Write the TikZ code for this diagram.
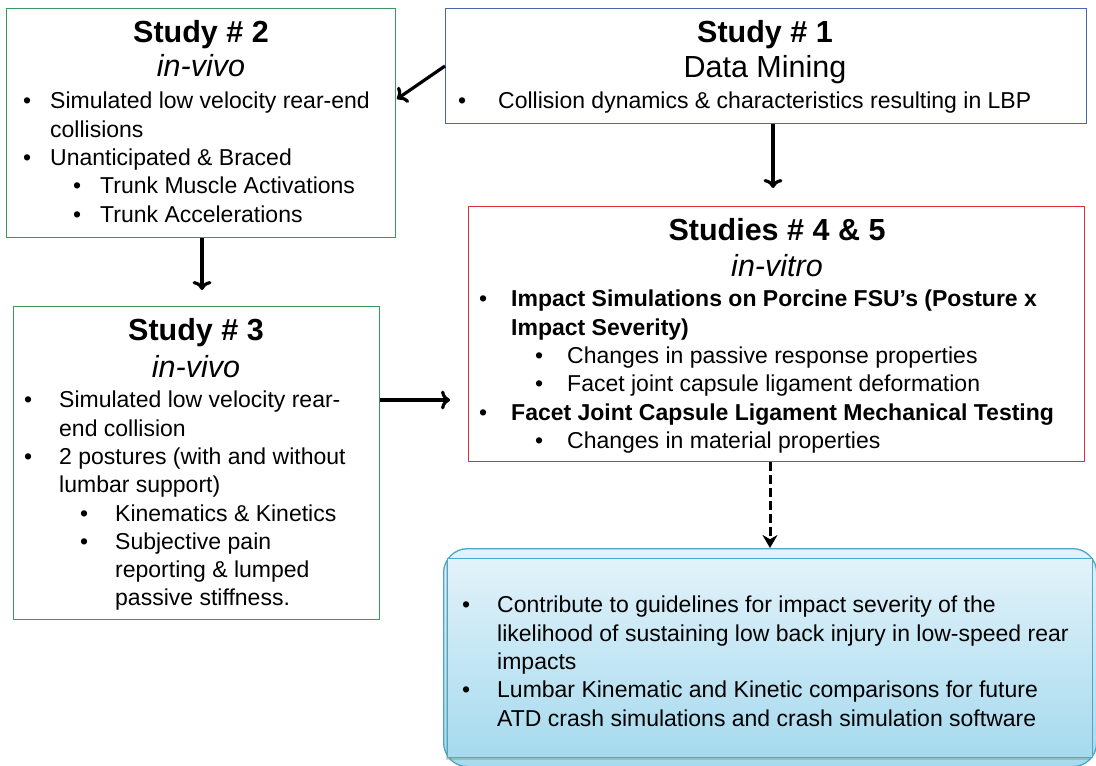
\documentclass[tikz,border=0pt]{standalone}
\usepackage{fontspec}
\setmainfont{Liberation Sans}
\usetikzlibrary{arrows.meta,shadows}
\definecolor{sgreen}{HTML}{3A9A5C}
\definecolor{sblue}{HTML}{4A68B0}
\definecolor{sred}{HTML}{E0303C}
\definecolor{cborder}{HTML}{4AA8C8}
\definecolor{ctop}{HTML}{E2F2FA}
\definecolor{cbot}{HTML}{A6DAEE}
\newcommand\bl{\makebox[27bp][l]{\textbullet}}
\newcommand\blb{\makebox[32bp][l]{\textbullet}}
\tikzset{
  box/.style={draw, line width=1.4bp, inner sep=0, anchor=north west},
  ttl/.style={font=\fontsize{30.5bp}{36bp}\selectfont\bfseries, inner sep=0, anchor=base},
  sub/.style={font=\fontsize{30.5bp}{36bp}\selectfont, inner sep=0, anchor=base},
  txt/.style={font=\fontsize{23bp}{28.3bp}\selectfont, inner sep=0, anchor=north west, align=left},
  arr/.style={line width=3.2bp, -{To[length=9bp,width=19bp]}},
}
\begin{document}
\begin{tikzpicture}[x=1bp,y=-1bp]
\useasboundingbox (0,0) rectangle (1096,766);
% boxes
\node[box, draw=sgreen, minimum width=389bp, minimum height=229bp] (s2) at (6,8) {};
\node[box, draw=sblue, minimum width=641bp, minimum height=115bp] (s1) at (445,8) {};
\node[box, draw=sred, minimum width=616bp, minimum height=255bp] (s45) at (468,206) {};
\node[box, draw=sgreen, minimum width=366bp, minimum height=313bp] (s3) at (13,306) {};
% bottom box
\node[draw=cborder, line width=1.3bp, rounded corners=24bp, top color=ctop, bottom color=cbot,
  minimum width=653bp, minimum height=218bp, inner sep=0, anchor=north west] (res) at (443,548) {};
\node[draw=cborder, line width=1bp, top color=ctop, bottom color=cbot,
  drop shadow={shadow xshift=-2bp, shadow yshift=-2bp, opacity=0.35},
  minimum width=645bp, minimum height=199bp, inner sep=0, anchor=north west] (resf) at (447,558) {};
% Study 2 text
\node[ttl] (s2t) at (201,43) {Study \# 2};
\node[sub] (s2s) at (201,77) {\itshape in-vivo};
\node[txt] (s2b) at (23,92) {\bl Simulated low velocity rear-end\\
\hspace*{27bp}collisions\\
\bl Unanticipated \& Braced\\
\hspace*{50bp}\bl Trunk Muscle Activations\\
\hspace*{50bp}\bl Trunk Accelerations};
% Study 1 text
\node[ttl] (s1t) at (765,43) {Study \# 1};
\node[sub] (s1s) at (765,78) {Data Mining};
\node[txt] (s1b) at (458,92) {\makebox[40bp][l]{\textbullet}Collision dynamics \& characteristics resulting in LBP};
% Studies 4&5 text
\node[ttl] (s45t) at (777,240) {Studies \# 4 \& 5};
\node[sub] (s45s) at (777,276) {\itshape in-vitro};
\node[txt] (s45b) at (479,290) {\blb\textbf{Impact Simulations on Porcine FSU’s (Posture x}\\
\hspace*{32bp}\textbf{Impact Severity)}\\
\hspace*{56bp}\blb Changes in passive response properties\\
\hspace*{56bp}\blb Facet joint capsule ligament deformation\\
\blb\textbf{Facet Joint Capsule Ligament Mechanical Testing}\\
\hspace*{56bp}\blb Changes in material properties};
% Study 3 text
\node[ttl] (s3t) at (196,340) {Study \# 3};
\node[sub] (s3s) at (196,377) {\itshape in-vivo};
\node[txt] (s3b) at (24,391) {\makebox[35bp][l]{\textbullet}Simulated low velocity rear-\\
\hspace*{35bp}end collision\\
\makebox[35bp][l]{\textbullet}2 postures (with and without\\
\hspace*{35bp}lumbar support)\\
\hspace*{56bp}\makebox[35bp][l]{\textbullet}Kinematics \& Kinetics\\
\hspace*{56bp}\makebox[35bp][l]{\textbullet}Subjective pain\\
\hspace*{91bp}reporting \& lumped\\
\hspace*{91bp}passive stiffness.};
% result text
\node[txt] (resb) at (462,596) {\makebox[35bp][l]{\textbullet}Contribute to guidelines for impact severity of the\\
\hspace*{35bp}likelihood of sustaining low back injury in low-speed rear\\
\hspace*{35bp}impacts\\
\makebox[35bp][l]{\textbullet}Lumbar Kinematic and Kinetic comparisons for future\\
\hspace*{35bp}ATD crash simulations and crash simulation software};
% connectors
\coordinate (a1) at (445,66);
\coordinate (a2) at (397,99);
\draw[arr] (a1) -- (a2);
\draw[arr] (s1.south -| 773,0) -- (773,188);
\draw[arr] (s2.south -| 202,0) -- (202,290);
\draw[arr] (s3.east |- 0,400) -- (450,400);
\draw[line width=3bp, dash pattern=on 9bp off 4bp, -{Stealth[length=13bp,width=15bp]}] (s45.south -| 770,0) -- (res.north -| 770,0);
\end{tikzpicture}
\end{document}
